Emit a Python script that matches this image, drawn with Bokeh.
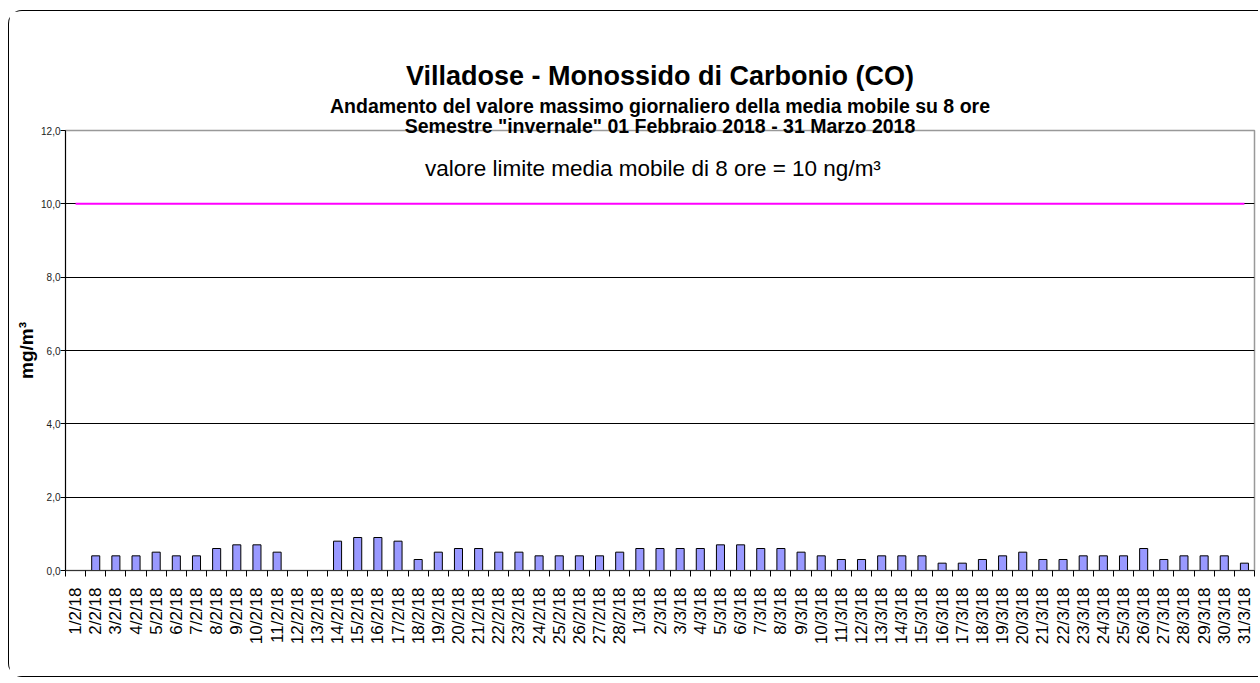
import math
from bokeh.plotting import figure
from bokeh.models import Range1d, FixedTicker, Title, Label, ColumnDataSource
from bokeh.embed import file_html
from bokeh.resources import INLINE

dates = ["1/2/18", "2/2/18", "3/2/18", "4/2/18", "5/2/18", "6/2/18", "7/2/18", "8/2/18", "9/2/18", "10/2/18",
         "11/2/18", "12/2/18", "13/2/18", "14/2/18", "15/2/18", "16/2/18", "17/2/18", "18/2/18", "19/2/18", "20/2/18",
         "21/2/18", "22/2/18", "23/2/18", "24/2/18", "25/2/18", "26/2/18", "27/2/18", "28/2/18",
         "1/3/18", "2/3/18", "3/3/18", "4/3/18", "5/3/18", "6/3/18", "7/3/18", "8/3/18", "9/3/18", "10/3/18",
         "11/3/18", "12/3/18", "13/3/18", "14/3/18", "15/3/18", "16/3/18", "17/3/18", "18/3/18", "19/3/18", "20/3/18",
         "21/3/18", "22/3/18", "23/3/18", "24/3/18", "25/3/18", "26/3/18", "27/3/18", "28/3/18", "29/3/18", "30/3/18",
         "31/3/18"]
co_values = [None, 0.4, 0.4, 0.4, 0.5, 0.4, 0.4, 0.6, 0.7, 0.7,
             0.5, None, None, 0.8, 0.9, 0.9, 0.8, 0.3, 0.5, 0.6,
             0.6, 0.5, 0.5, 0.4, 0.4, 0.4, 0.4, 0.5,
             0.6, 0.6, 0.6, 0.6, 0.7, 0.7, 0.6, 0.6, 0.5, 0.4,
             0.3, 0.3, 0.4, 0.4, 0.4, 0.2, 0.2, 0.3, 0.4, 0.5,
             0.3, 0.3, 0.4, 0.4, 0.4, 0.6, 0.3, 0.4, 0.4, 0.4,
             0.2]
limit_value = 10
y_ticks = [0, 2, 4, 6, 8, 10, 12]
y_tick_labels = ["0,0", "2,0", "4,0", "6,0", "8,0", "10,0", "12,0"]

title_main = "Villadose - Monossido di Carbonio (CO)"
title_sub1 = "Andamento del valore massimo giornaliero della media mobile su 8 ore"
title_sub2 = 'Semestre "invernale" 01 Febbraio 2018 - 31 Marzo 2018'
limit_text = "valore limite media mobile di 8 ore = 10 ng/m³"

n = len(dates)
idx = list(range(n))
bar_x = [i for i, v in zip(idx, co_values) if v is not None]
bar_top = [v for v in co_values if v is not None]

FONT = "Liberation Sans"

p = figure(width=1250, height=667, output_backend="svg", toolbar_location=None,
           x_range=Range1d(-0.5, n - 0.5), y_range=Range1d(0, 12),
           min_border_left=56, min_border_top=119, min_border_bottom=108, min_border_right=5)

p.styles = {"margin-left": "8px", "margin-top": "10px",
            "border-left": "1.5px solid black", "border-top": "1.5px solid black",
            "border-bottom": "1.5px solid black",
            "border-top-left-radius": "14px", "border-bottom-left-radius": "14px"}

# titles (inner first)
t3 = Title(text=title_sub2, align="center",
           text_font=FONT, text_font_size="19.5px", text_font_style="bold", text_color="black",
           standoff=-12)
t2 = Title(text=title_sub1, align="center",
           text_font=FONT, text_font_size="19.5px", text_font_style="bold", text_color="black",
           standoff=3)
t1 = Title(text=title_main, align="center",
           text_font=FONT, text_font_size="27px", text_font_style="bold", text_color="black",
           standoff=2)
p.add_layout(t3, "above")
p.add_layout(t2, "above")
p.add_layout(t1, "above")

src = ColumnDataSource(dict(x=bar_x, top=bar_top))
p.vbar(x="x", top="top", bottom=0, width=0.4, source=src,
       fill_color="#9999FF", line_color="black", line_width=1)

p.line(x=[idx[0], idx[-1]], y=[limit_value, limit_value], line_color="#FF00FF", line_width=2)

p.add_layout(Label(x=(n - 1) / 2 - 0.35, y=10.96, text=limit_text,
                   text_align="center", text_baseline="middle", text_font=FONT,
                   text_font_size="22.5px", text_color="black"))

# x axis
xax = p.xaxis[0]
xax.ticker = FixedTicker(ticks=idx, minor_ticks=[i - 0.5 for i in range(n + 1)])
xax.major_label_overrides = {i: d for i, d in zip(idx, dates)}
xax.major_label_orientation = math.pi / 2
xax.major_tick_out = 0
xax.major_tick_in = 0
xax.minor_tick_out = 6
xax.minor_tick_in = 0
xax.minor_tick_line_color = "black"
xax.axis_line_color = "#333333"
xax.major_label_text_font = FONT
xax.major_label_text_font_size = "17px"
xax.major_label_text_color = "black"
xax.major_label_standoff = 11

# y axis
yax = p.yaxis[0]
yax.ticker = FixedTicker(ticks=y_ticks)
yax.major_label_overrides = {t: l for t, l in zip(y_ticks, y_tick_labels)}
yax.major_tick_out = 5
yax.major_tick_in = 0
yax.minor_tick_line_color = None
yax.axis_line_color = "black"
yax.major_tick_line_color = "black"
yax.major_label_text_font = FONT
yax.major_label_text_font_size = "10px"
yax.major_label_text_color = "#222222"
yax.major_label_standoff = 0
yax.axis_label = "mg/m³"
yax.axis_label_text_font = FONT
yax.axis_label_text_font_size = "19px"
yax.axis_label_text_font_style = "bold"
yax.axis_label_text_color = "black"
yax.axis_label_standoff = 1

p.xgrid.visible = False
p.ygrid.ticker = FixedTicker(ticks=y_ticks[1:-1])
p.ygrid.grid_line_color = "black"
p.ygrid.grid_line_width = 1

p.outline_line_color = "#999999"
p.outline_line_width = 1.5
p.background_fill_color = "white"
p.border_fill_color = "white"

open("out.html", "w").write(file_html(p, INLINE))
